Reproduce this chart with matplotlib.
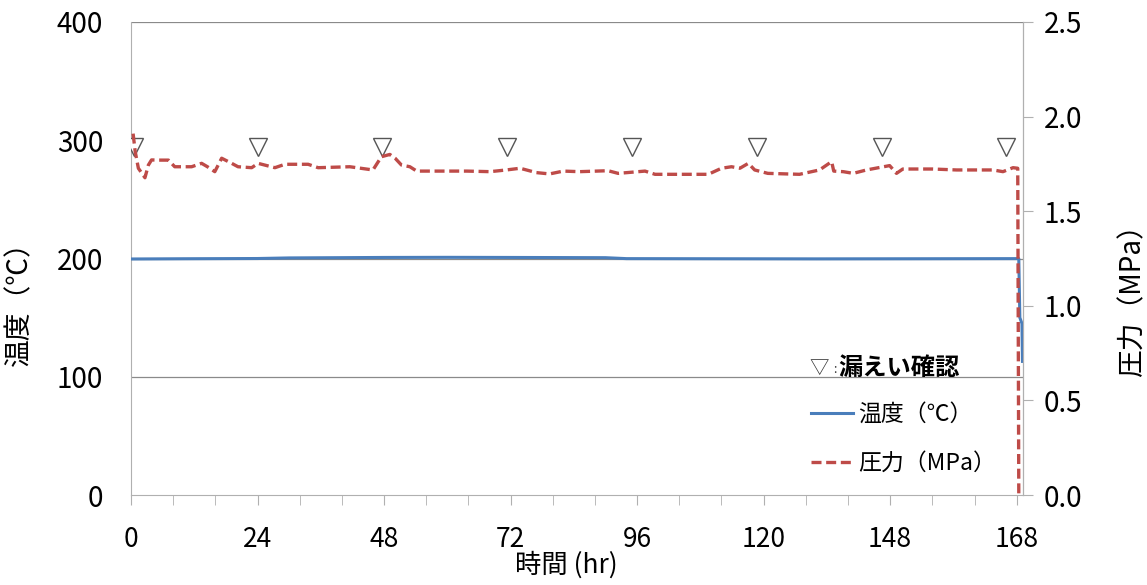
import matplotlib
matplotlib.use("Agg")
from matplotlib import pyplot as plt
from matplotlib.lines import Line2D

plt.rcParams["font.family"] = ["Noto Sans CJK JP", "DejaVu Sans"]

# temperature (left axis, °C)
temp_hr = [0, 10, 24, 30, 48, 60, 72, 90, 94, 110, 130, 150, 168.4, 168.6, 169.0, 169.1]
temp_c = [199.6, 199.8, 200.0, 200.5, 200.9, 201.0, 200.9, 200.7, 199.9, 199.8,
          199.7, 199.8, 199.9, 150.0, 145.0, 113.0]

# pressure (right axis, MPa)
pres_hr = [0.4, 0.8, 1.4, 2.65, 3.3, 3.9, 5.2, 7.1, 8.3, 11.5, 13.4, 14.5, 15.9, 17.2,
           19.1, 20.3, 22.9, 24.1, 27.3, 29.2, 33.6, 35.5, 41.5, 45.9, 47.5, 49.1,
           50.1, 51.3, 52.9, 54.2, 63.7, 68.1, 71.2, 73.8, 76.9, 79.4, 82.0, 85.1,
           90.5, 92.4, 97.5, 99.4, 109.5, 112.0, 113.9, 115.5, 117.1, 118.3, 120.8,
           126.8, 130.6, 132.9, 133.3, 135.1, 137.0, 139.5, 143.9, 145.2, 146.4,
           152.1, 156.6, 163.5, 165.4, 167.3, 168.2, 168.4]
pres_mpa = [1.91, 1.815, 1.727, 1.677, 1.744, 1.771, 1.77, 1.77, 1.735, 1.735, 1.753,
            1.735, 1.709, 1.78, 1.753, 1.735, 1.73, 1.753, 1.73, 1.748, 1.748, 1.73,
            1.735, 1.718, 1.788, 1.80, 1.78, 1.744, 1.735, 1.712, 1.712, 1.709, 1.718,
            1.727, 1.704, 1.697, 1.712, 1.709, 1.714, 1.70, 1.712, 1.695, 1.695, 1.727,
            1.735, 1.727, 1.753, 1.718, 1.70, 1.695, 1.718, 1.762, 1.712, 1.709, 1.70,
            1.718, 1.741, 1.70, 1.723, 1.723, 1.718, 1.718, 1.709, 1.73, 1.727, 0.0]

# leak checks (▽)
check_hr = [0.6, 24.1, 47.6, 71.3, 95.0, 118.7, 142.4, 165.9]
check_c = [294] * len(check_hr)

xtick_pos = [0, 24, 48, 72, 96, 120, 144, 168]
xtick_labels = ["0", "24", "48", "72", "96", "120", "148", "168"]

blue = "#4a7ebb"
red = "#be4b48"
spine_c = "#b0b0b0"
grid_c = "#8a8a8a"

fig = plt.figure(figsize=(11.47, 5.85), dpi=100)
ax = fig.add_axes([0.1142, 0.1538, 0.7777, 0.8086])
ax2 = ax.twinx()

# only some horizontal lines are visible in the original
for g in (100, 200, 400):
    ax.axhline(g, color=grid_c, lw=0.9, zorder=1)

ax.plot(temp_hr, temp_c, color=blue, lw=2.2, zorder=3)
ax.plot(check_hr, check_c, ls="none", marker="v", ms=13, mfc="white",
        mec="#555555", mew=1.0, zorder=4)
ax2.plot(pres_hr, pres_mpa, color=red, lw=2.4, dashes=(3, 1.4))

ax.set_xlim(0, 169.2)
ax.set_ylim(0, 400)
ax2.set_ylim(0, 2.5)

ax.set_yticks([0, 100, 200, 300, 400])
ax.tick_params(axis="y", length=0, labelsize=20, pad=20)

ax.set_xticks(xtick_pos)
ax.set_xticklabels(xtick_labels)
ax.set_xticks(list(range(0, 169, 8)), minor=True)
ax.tick_params(axis="x", which="both", direction="out", length=7, color=spine_c,
               labelsize=19, pad=15)

ax2.set_yticks([0, 0.5, 1.0, 1.5, 2.0, 2.5])
ax2.set_yticklabels(["0.0", "0.5", "1.0", "1.5", "2.0", "2.5"])
ax2.tick_params(axis="y", direction="out", length=7, color=spine_c, labelsize=20, pad=8)

for a in (ax, ax2):
    a.spines["top"].set_visible(False)
    for s in ("left", "right", "bottom"):
        a.spines[s].set_color(spine_c)
ax2.spines["left"].set_visible(False)
ax2.spines["bottom"].set_visible(False)

ax.set_ylabel("温度（℃）", fontsize=20)
ax.yaxis.set_label_coords(-0.108, 0.42)
ax2.set_ylabel("圧力（MPa）", fontsize=20)
ax2.yaxis.set_label_coords(1.106, 0.425)
ax.set_xlabel("時間 (hr)", fontsize=19)
ax.xaxis.set_label_coords(0.488, -0.118)

fig.text(0.706, 0.371, "▽", fontsize=14, color="#333333", va="center")
fig.text(0.726, 0.369, ":", fontsize=9, color="#333333", va="center")
fig.text(0.731, 0.371, "漏えい確認", fontsize=17.5, fontweight="bold", va="center")

handles = [Line2D([], [], color=blue, lw=2.2),
           Line2D([], [], color=red, lw=2.4, dashes=(3, 1.4))]
ax.legend(handles, ["温度（℃）", "圧力（MPa）"], loc="upper left",
          bbox_to_anchor=(0.689, 0.347), bbox_transform=fig.transFigure,
          frameon=False, fontsize=16.5, handlelength=1.85, handletextpad=0.2,
          labelspacing=1.15)

fig.savefig("out.png", dpi=100)
